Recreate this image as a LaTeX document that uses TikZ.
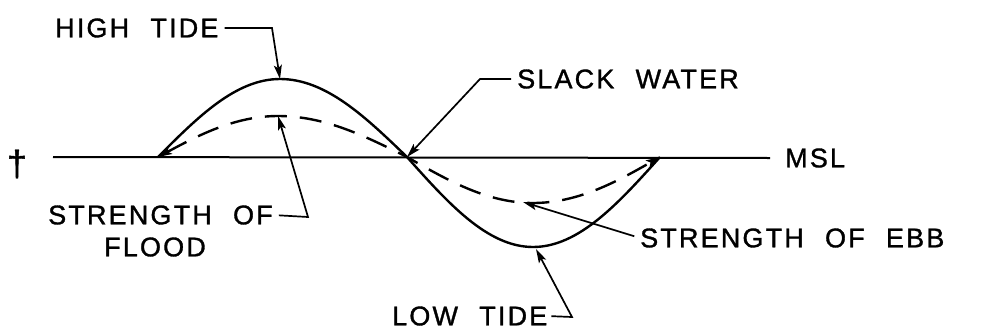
\documentclass[tikz,border=0pt]{standalone}
\usepackage{fontspec}
\setmainfont{Liberation Sans}[LetterSpace=8,WordSpace=2.2,FakeBold=1.2]
\usetikzlibrary{arrows.meta}
\begin{document}
\begin{tikzpicture}[x=1pt, y=-1pt,
  lbl/.style={font=\fontsize{27}{32}\selectfont, inner sep=0pt},
  tide/.style={line width=2.4pt},
  leader/.style={line width=1.7pt, -{Stealth[length=14pt,width=8pt,inset=3pt]}}
]
\useasboundingbox (0,0) rectangle (985,335);
\coordinate (w0) at (158,157);
\coordinate (hw) at (280,79);
\coordinate (sw) at (407,157);
\coordinate (lw) at (533,247);
\coordinate (w1) at (660,157);
\coordinate (fl) at (278,116);
\coordinate (eb) at (533,203);
\coordinate (m0) at (53,157);
\coordinate (hwbend) at (272,28);
\coordinate (swbend) at (480,79);
\coordinate (flbend) at (308,217);
\coordinate (lwbend) at (572,317);
\coordinate (ebtip) at (523,202);
\coordinate (lwtip) at (536,249);
\node[lbl, font=\fontsize{36}{40}\selectfont] (dag) at (17,164) {\textdagger};
\node[lbl, anchor=west] (msl) at (785,158) {MSL};
\node[lbl, anchor=west] (hightide) at (55,28) {HIGH TIDE};
\node[lbl, anchor=west] (slack) at (517,79) {SLACK WATER};
\node[lbl, anchor=west] (strflood) at (48,215) {STRENGTH OF};
\node[lbl] (flood) at (155,247) {FLOOD};
\node[lbl, anchor=west] (ebb) at (640,238) {STRENGTH OF EBB};
\node[lbl, anchor=west] (lowtide) at (392,316) {LOW TIDE};
\draw[line width=2pt] (m0) -- ([xshift=-15pt]msl.west);
\draw[tide] (w0) sin (hw) cos (sw) sin (lw) cos (w1);
\draw[tide, dash pattern=on 22pt off 13pt, {Stealth[length=14pt,width=8pt,inset=3pt]}-{Stealth[length=14pt,width=8pt,inset=3pt]}]
  (w0) sin (fl) cos (sw) sin (eb) cos (w1);
\draw[leader, shorten <=6pt] (hightide.east) -- (hwbend) -- (hw);
\draw[leader, shorten <=6pt] (slack.west) -- (swbend) -- (sw);
\draw[leader, shorten <=6pt] (strflood.east) -- (flbend) -- (fl);
\draw[leader, shorten <=6pt] (ebb.west) -- (ebtip);
\draw[leader, shorten <=4pt] (lowtide.east) -- (lwbend) -- (lwtip);
\end{tikzpicture}
\end{document}
